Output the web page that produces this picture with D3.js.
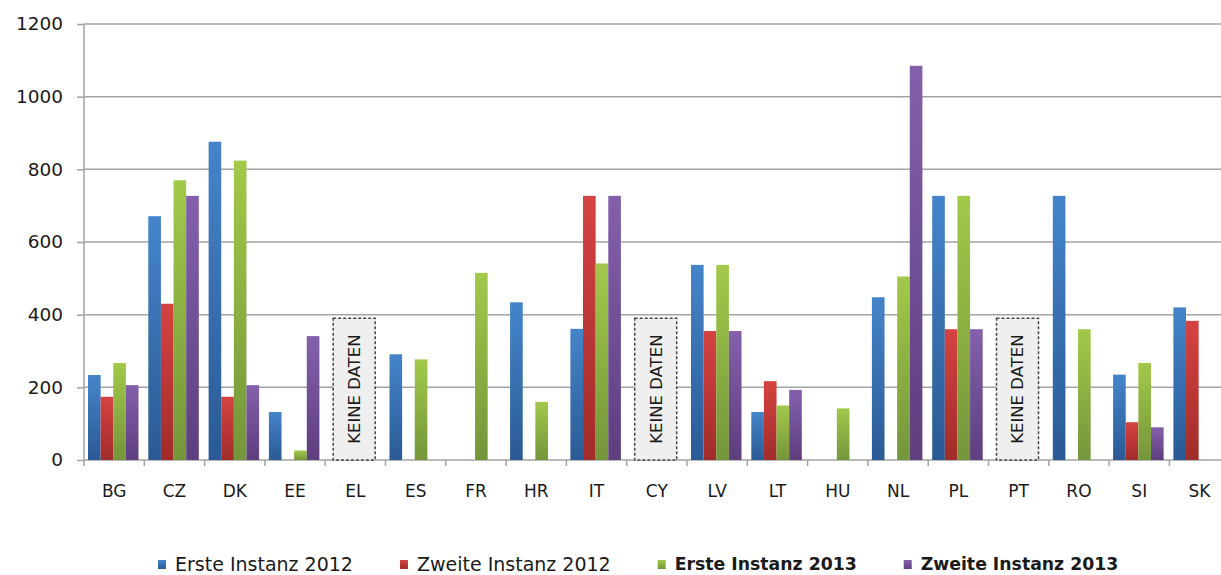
<!DOCTYPE html>
<html>
<head>
<meta charset="utf-8">
<script src="https://cdn.jsdelivr.net/npm/d3@7"></script>
<style>
  body { margin: 0; background: #fff; }
  text { font-family: "DejaVu Sans", Verdana, sans-serif; fill: #1a1a1a; }
</style>
</head>
<body>
<div id="chart"></div>
<script>
var countries = ["BG","CZ","DK","EE","EL","ES","FR","HR","IT","CY","LV","LT","HU","NL","PL","PT","RO","SI","SK"]
var series = ["Erste Instanz 2012","Zweite Instanz 2012","Erste Instanz 2013","Zweite Instanz 2013"]
var seriesBold = [false,false,true,true]

// values, null = no bar
var erste2012  = [234,671,876,132,null,291,null,434,361,null,537,132,null,448,727,null,727,235,420]
var zweite2012 = [174,430,174,null,null,null,null,null,727,null,355,217,null,null,360,null,null,104,383]
var erste2013  = [267,770,824,26,null,277,515,160,541,null,537,150,142,505,727,null,360,267,null]
var zweite2013 = [206,727,206,341,null,null,null,null,727,null,355,193,null,1085,360,null,null,90,null]

var noData = ["EL","CY","PT"]
var noDataLevel = 390
var yTicks = [0,200,400,600,800,1000,1200]

var colorsTop = ["#4584ca","#d54342","#a2c94a","#8460ac"]
var colorsBottom = ["#2a5a95","#a02c29","#74953a","#5d3e7e"]

var width = 1221, height = 575;
var plotLeft = 84, plotTop = 24, plotBottom = 460;
var band = 60.3;

var svg = d3.select("#chart").append("svg")
  .attr("width", width)
  .attr("height", height);

var defs = svg.append("defs");
series.forEach(function(s, i){
  var g = defs.append("linearGradient")
    .attr("id", "grad" + i)
    .attr("x1", 0).attr("y1", 0).attr("x2", 0).attr("y2", 1);
  g.append("stop").attr("offset", "0%").attr("stop-color", colorsTop[i]);
  g.append("stop").attr("offset", "100%").attr("stop-color", colorsBottom[i]);
});

var x = d3.scaleBand()
  .domain(countries)
  .range([plotLeft, plotLeft + band * countries.length])
  .paddingInner(0).paddingOuter(0);

var xs = d3.scaleBand()
  .domain(series)
  .range([4, 54.5]);

var y = d3.scaleLinear()
  .domain([0, 1200])
  .range([plotBottom, plotTop]);

// grid
svg.append("g").selectAll("line")
  .data(yTicks)
  .enter().append("line")
  .attr("x1", plotLeft).attr("x2", width)
  .attr("y1", function(d){ return y(d); })
  .attr("y2", function(d){ return y(d); })
  .attr("stroke", "#a3a3a3")
  .attr("stroke-width", 1.5);

// y axis
var yAxis = svg.append("g")
  .attr("transform", "translate(" + plotLeft + ",0)")
  .call(d3.axisLeft(y).tickValues(yTicks).tickSize(7).tickPadding(14).tickFormat(d3.format("d")));
yAxis.selectAll("text").style("font-size", "18.5px").style("fill", "#1a1a1a");
yAxis.selectAll("line").attr("stroke", "#a3a3a3").attr("stroke-width", 1.5);
yAxis.select(".domain").remove();
svg.append("line")
  .attr("x1", plotLeft).attr("x2", plotLeft)
  .attr("y1", plotTop).attr("y2", plotBottom + 6)
  .attr("stroke", "#a3a3a3").attr("stroke-width", 1.5);

// x ticks at band edges
svg.append("g").selectAll("line")
  .data(countries)
  .enter().append("line")
  .attr("x1", function(d){ return x(d) + x.bandwidth(); })
  .attr("x2", function(d){ return x(d) + x.bandwidth(); })
  .attr("y1", plotBottom).attr("y2", plotBottom + 6)
  .attr("stroke", "#a3a3a3").attr("stroke-width", 1.5);

var xAxis = svg.append("g")
  .attr("transform", "translate(0," + plotBottom + ")")
  .call(d3.axisBottom(x).tickSize(0).tickPadding(25));
xAxis.select(".domain").remove();
xAxis.selectAll("text").style("font-size", "17px").style("fill", "#1a1a1a");

// bars
var allValues = [erste2012, zweite2012, erste2013, zweite2013];
allValues.forEach(function(vals, i){
  svg.append("g").selectAll("rect")
    .data(countries.map(function(c, j){ return {key: c, value: vals[j]}; }).filter(function(d){ return d.value != null; }))
    .enter().append("rect")
    .attr("x", function(d){ return x(d.key) + xs(series[i]); })
    .attr("width", xs.bandwidth())
    .attr("y", function(d){ return y(d.value); })
    .attr("height", function(d){ return plotBottom - y(d.value); })
    .attr("fill", "url(#grad" + i + ")");
});

// keine daten boxes
var nd = svg.append("g").selectAll("g")
  .data(noData)
  .enter().append("g");
nd.append("rect")
  .attr("x", function(d){ return x(d) + 8; })
  .attr("width", 42)
  .attr("y", y(noDataLevel))
  .attr("height", plotBottom - y(noDataLevel))
  .attr("fill", "#efefef")
  .attr("stroke", "#444")
  .attr("stroke-width", 1.5)
  .attr("stroke-dasharray", "3,2");
nd.append("text")
  .attr("transform", function(d){
    return "translate(" + (x(d) + 29) + "," + ((y(noDataLevel) + plotBottom) / 2) + ") rotate(-90)";
  })
  .attr("text-anchor", "middle")
  .attr("dy", "0.36em")
  .style("font-size", "16.5px")
  .text("KEINE DATEN");

// legend
var legend = svg.append("g").attr("transform", "translate(158,564)");
var lx = 0;
series.forEach(function(s, i){
  var item = legend.append("g").attr("transform", "translate(" + lx + ",0)");
  item.append("rect")
    .attr("x", 0).attr("y", -4)
    .attr("width", 8).attr("height", 9)
    .attr("fill", "url(#grad" + i + ")");
  var t = item.append("text")
    .attr("x", 17)
    .attr("dy", "0.36em")
    .style("font-size", seriesBold[i] ? "17.3px" : "19px")
    .style("font-weight", seriesBold[i] ? "bold" : "normal")
    .text(s);
  lx += 17 + t.node().getComputedTextLength() + 47;
});
</script>
</body>
</html>
